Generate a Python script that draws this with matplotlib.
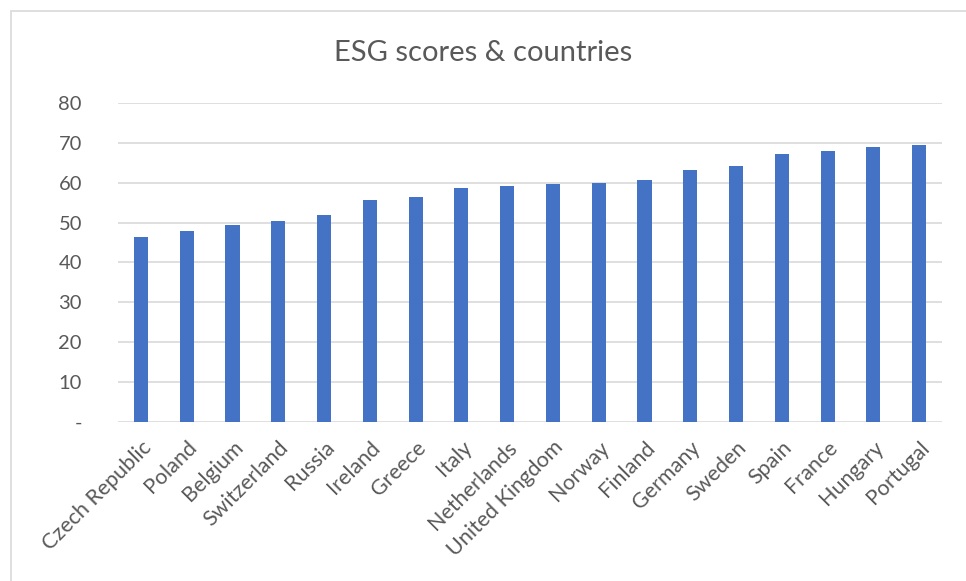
import matplotlib.pyplot as plt
from matplotlib.patches import Rectangle

countries = ['Czech Republic', 'Poland', 'Belgium', 'Switzerland', 'Russia',
             'Ireland', 'Greece', 'Italy', 'Netherlands', 'United Kingdom',
             'Norway', 'Finland', 'Germany', 'Sweden', 'Spain', 'France',
             'Hungary', 'Portugal']
esg_scores = [46.4, 47.9, 49.5, 50.5, 51.9, 55.6, 56.4, 58.8, 59.2, 59.8,
              59.9, 60.8, 63.1, 64.1, 67.1, 67.9, 68.9, 69.4]
y_ticks = [0, 10, 20, 30, 40, 50, 60, 70, 80]
y_tick_labels = ['-', '10', '20', '30', '40', '50', '60', '70', '80']

plt.rcParams['font.family'] = ['Lato', 'DejaVu Sans']
text_color = '#595959'

fig = plt.figure(figsize=(9.66, 5.81), dpi=100)
ax = fig.add_axes([0.1222, 0.2737, 0.8530, 0.5490])

# chart frame (Excel-style light border)
fig.patches.append(Rectangle((11 / 966, -0.05), 1.2, 1 - 11 / 581 + 0.05,
                             transform=fig.transFigure, fill=False,
                             edgecolor='#d9d9d9', linewidth=1.2))

x = range(len(countries))
ax.bar(x, esg_scores, width=0.31, color='#4472c4', zorder=3)

ax.set_xlim(-0.5, len(countries) - 0.5)
ax.set_ylim(0, 80)
ax.set_yticks(y_ticks)
ax.set_yticklabels(y_tick_labels)
ax.set_xticks(list(x))
ax.set_xticklabels(countries, rotation=45, ha='right', va='top',
                   rotation_mode='anchor', fontsize=15.5)

ax.tick_params(axis='both', length=0, labelcolor=text_color)
ax.tick_params(axis='y', labelsize=14.5, pad=26)
ax.tick_params(axis='x', pad=11)
ax.grid(axis='y', color='#d9d9d9', linewidth=1.2, zorder=0)
for spine in ax.spines.values():
    spine.set_visible(False)

fig.text(0.5, 1 - 53 / 581, 'ESG scores & countries', ha='center', va='center',
         fontsize=21, color=text_color)

fig.savefig('out.png', dpi=100)
